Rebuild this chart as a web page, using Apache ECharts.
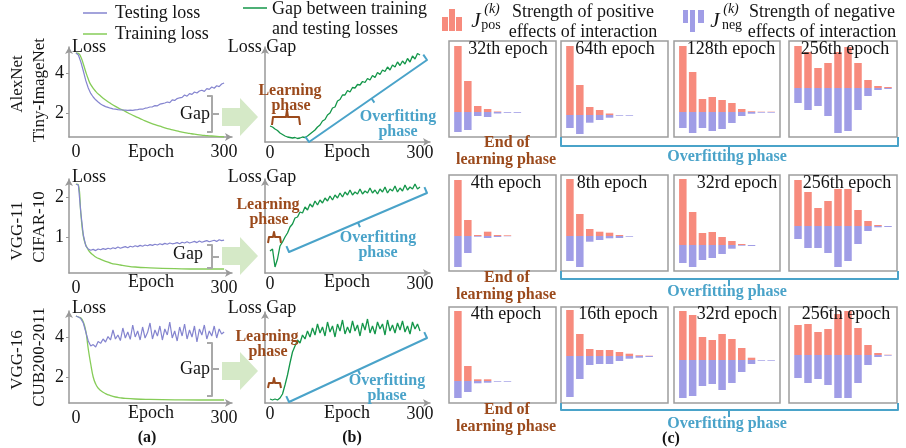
<!DOCTYPE html>
<html><head><meta charset="utf-8">
<script src="https://cdn.jsdelivr.net/npm/echarts@6/dist/echarts.min.js"></script>
<style>html,body{margin:0;padding:0;background:#fff}#c{width:906px;height:448px}</style>
</head><body><div id="c"></div>
<script>
// ---------------- DATA ----------------
const epochs = [0,5,10,15,20,25,30,35,40,45,50,55,60,65,70,75,80,85,90,95,100,105,110,115,120,125,130,135,140,145,150,155,160,165,170,175,180,185,190,195,200,205,210,215,220,225,230,235,240,245,250,255,260,265,270,275,280,285,290,295,300];

// (a) AlexNet / Tiny-ImageNet
const testLoss1 = [5.0,4.9,4.55,4.1,3.62,3.25,2.98,2.8,2.66,2.55,2.45,2.38,2.32,2.28,2.24,2.21,2.19,2.17,2.16,2.15,2.14,2.13,2.14,2.13,2.16,2.17,2.2,2.19,2.24,2.26,2.3,2.31,2.37,2.36,2.44,2.47,2.5,2.55,2.52,2.66,2.63,2.72,2.76,2.78,2.9,2.84,2.97,2.93,3.05,3.0,3.1,3.14,3.08,3.22,3.18,3.3,3.24,3.36,3.32,3.45,3.5];
const trainEp1 = [0,5,10,15,20,25,30,40,50,60,70,80,90,100,110,120,130,140,150,160,170,180,190,200,210,220,230,240,250,260,270,280,290,300];
const trainLoss1 = [5.0,4.98,4.8,4.45,4.05,3.7,3.42,3.08,2.85,2.65,2.48,2.33,2.2,2.08,1.95,1.83,1.72,1.61,1.51,1.42,1.34,1.26,1.19,1.13,1.07,1.02,0.98,0.94,0.91,0.88,0.86,0.84,0.82,0.8];
// (a) VGG-11 / CIFAR-10
const testLoss2 = [2.32,2.3,1.6,1.05,0.78,0.7,0.67,0.69,0.66,0.7,0.68,0.71,0.69,0.72,0.7,0.73,0.71,0.75,0.72,0.74,0.76,0.73,0.77,0.75,0.78,0.76,0.79,0.77,0.8,0.78,0.81,0.79,0.82,0.8,0.83,0.81,0.84,0.82,0.85,0.83,0.84,0.86,0.83,0.87,0.85,0.88,0.85,0.87,0.89,0.86,0.9,0.87,0.89,0.91,0.88,0.9,0.92,0.89,0.93,0.91,0.92];
const trainEp2 = [0,5,10,15,20,25,30,35,40,50,60,70,80,90,100,120,150,200,250,300];
const trainLoss2 = [2.32,2.3,1.58,1.02,0.8,0.68,0.6,0.55,0.5,0.44,0.39,0.35,0.32,0.3,0.28,0.25,0.23,0.21,0.2,0.2];
// (a) VGG-16 / CUB200-2011
const testLoss3 = [5.05,5.0,4.92,4.7,4.25,3.8,3.55,3.62,3.5,3.78,3.68,3.9,3.75,4.02,3.85,4.35,3.9,4.1,3.82,4.45,3.95,4.25,3.88,4.6,4.0,4.3,3.85,4.5,3.95,4.22,4.7,3.9,4.35,4.05,4.55,3.85,4.4,4.1,4.75,3.95,4.3,3.8,4.5,4.05,4.65,3.9,4.35,4.0,4.55,3.75,4.4,4.1,4.6,3.9,4.3,4.05,4.55,3.95,4.4,4.15,4.25];
const trainEp3 = [0,5,10,15,20,25,30,35,40,45,50,60,70,80,90,100,120,150,200,250,300];
const trainLoss3 = [5.05,5.0,4.95,4.75,4.3,3.4,2.65,2.0,1.65,1.45,1.32,1.17,1.07,1.0,0.96,0.93,0.9,0.88,0.86,0.85,0.85];

// (b) loss gap (arbitrary units)
const gap1 = [16,15,13,11.5,9,7.5,6,5,4.5,4,4.5,3.5,4,5,4.5,6,8,10,12,15,17,21,22.5,27,29,34,35,41,42.5,47,47,51.5,50,54.5,54,57.5,57,60.5,59.5,63.5,62,66.5,64.5,69.5,67.5,72,70.5,75,72,77,75,80,76.5,81,78,83.5,80,86,83,88.5,87];
const gap2 = [22,24,6,14,27,31,36,40,46,49,55,56,61,60,66,63,69,66,72,68,73,70,75,72,77,73,78,75,80,76,81,78,83,78,81,79,84,79,82,80,85,80,83,79,84,81,86,80,84,82,87,81,85,82,88,83,86,84,89,84,86];
const gap3 = [4,3,4,3,5,9,18,28,40,51,57,63,60,68,64,72,66,75,68,79,70,76,67,81,71,77,66,79,72,83,69,76,70,82,72,78,67,80,73,84,70,77,69,81,74,79,68,83,72,78,70,80,73,82,71,77,69,81,74,79,72];

// (c) interaction strengths, orders 1..10
const orders = [0,1,2,3,4,5,6,7,8,9];
const epochLabels = [["32th epoch","64th epoch","128th epoch","256th epoch"],["4th epoch","8th epoch","32rd epoch","256th epoch"],["4th epoch","16th epoch","32rd epoch","256th epoch"]];
const posR1 = [[66,31,6,3,0.5,0,0,0,0,0],[69,30,8,5,1.5,0,0,0,0,0],[66,40,13,15,12,9,3,0.7,0.3,0.3],[42,36,20,25,36,41,25,8,2,1]];
const negR1 = [[-20,-18,-4,-5,-1.5,-0.8,-0.8,0,0,0],[-13,-19,-7.7,-5,-2.7,-0.7,-0.7,0,0,0],[-16,-21,-16,-19,-17,-11,-4,-1.7,-0.7,-0.7],[-15,-22,-18,-28,-45,-43,-22,-8,-2,-1]];
const posR2 = [[56,16,1,4.3,1,0.7,0,0,0,0],[57,22,7,4.3,3.3,1,0,0,0,0],[66,33,12,13,8,4,1,0,0,0],[46,34,18,25,37,37,16,5,1,0]];
const negR2 = [[-31,-17,-0.7,-2,-1,-0.3,0,0,0,0],[-25,-31,-5.7,-4,-2.3,-2,-0.7,0,0,0],[-18,-22,-15,-13,-9,-3.7,-0.7,-1,0,0],[-13,-22,-22,-27,-41,-35,-18,-5,-1.3,-1]];
const posR3 = [[70,15,1.7,1.7,0,0,0,0,0,0],[46,22,7,6,6,4,2.3,0.7,0.3,0],[49,45,23,20,26,21,12,2.3,0,0],[30,31,23,26,41,44,27,10,2,0.3]];
const negR3 = [[-17,-11,-2.3,-1.7,-0.7,-0.7,0,0,0,0],[-41,-23,-9,-8,-8,-5,-2.7,-1.7,-1,0],[-38,-36,-26,-24,-30,-23,-12,-4,-0.7,-0.7],[-23,-28,-24,-30,-43,-43,-28,-10,-2,-0.7]];

const rowTitles = [["AlexNet","Tiny-ImageNet"],["VGG-11","CIFAR-10"],["VGG-16","CUB200-2011"]];
const aTicks = [[2,4],[1,2],[2,4]];
const xTicks = [0,300];

// ---------------- STYLE / LAYOUT ----------------
const FONT = '"Liberation Serif","Times New Roman",serif';
const TXT = '#141414';
const C_TEST='#8484cf', C_TRAIN='#86cc58', C_GAP='#139649', C_POS='#f78b7d', C_NEG='#a09de6',
      C_BROWN='#9b4a1c', C_BLUE='#4aa3c9', C_AXIS='#999999', C_GAPBR='#a8a8a8', C_ARROW='#d5e9c7';

const aLay = [{top:47,h:90,ymin:0.8,ymax:5.3},{top:179,h:94,ymin:0.1,ymax:2.45},{top:311,h:92,ymin:0.7,ymax:5.3}];
const bLay = [{top:47,h:95},{top:179,h:94},{top:312,h:91}];
const cLefts=[449,561,674,789], cWidths=[107,107,106,108], cTops=[41,175,307], cH=96;
const cBase=[[112,115,112,88],[236,236,245,226],[381,356,360,355]];

const grids=[], xAxes=[], yAxes=[], series=[];
function axisLineSt(){return {show:true,onZero:false,symbol:['none','arrow'],symbolSize:[6,7],lineStyle:{color:C_AXIS,width:1.5}};}
const lblFont = {color:TXT,fontFamily:FONT,fontSize:18};

function lineAxes(left,top,w,h,xmin,xmax,ymin,ymax,yt,lm){
  grids.push({left:left,top:top,width:w,height:h});
  const gi=grids.length-1;
  xAxes.push({type:'value',gridIndex:gi,min:xmin,max:xmax,axisLine:axisLineSt(),axisTick:{show:false},splitLine:{show:false},
    axisLabel:Object.assign({customValues:xTicks,margin:lm},lblFont)});
  const ya={type:'value',gridIndex:gi,min:ymin,max:ymax,axisLine:axisLineSt(),splitLine:{show:false}};
  if(yt){ya.axisTick={show:true,customValues:yt,length:3,lineStyle:{color:C_AXIS}};ya.axisLabel=Object.assign({customValues:yt,margin:5},lblFont);}
  else {ya.axisTick={show:false};ya.axisLabel={show:false};}
  yAxes.push(ya);
  return gi;
}
function zip(xs,ys){const n=Math.min(xs.length,ys.length);const o=[];for(let i=0;i<n;i++)o.push([xs[i],ys[i]]);return o;}
function lineSeries(gi,xs,ys,color,w,smooth){
  series.push({type:'line',xAxisIndex:gi,yAxisIndex:gi,data:zip(xs,ys),showSymbol:false,smooth:!!smooth,silent:true,
    lineStyle:{color:color,width:w}});
}

const testL=[testLoss1,testLoss2,testLoss3], trainE=[trainEp1,trainEp2,trainEp3], trainL=[trainLoss1,trainLoss2,trainLoss3], gaps=[gap1,gap2,gap3];
for(let r=0;r<3;r++){
  const L=aLay[r];
  const gi=lineAxes(69,L.top,163,L.h,-14,316,L.ymin,L.ymax,aTicks[r],6);
  lineSeries(gi,trainE[r],trainL[r],C_TRAIN,1.3,true);
  lineSeries(gi,epochs,testL[r],C_TEST,1.2,false);
  const B=bLay[r];
  const gb=lineAxes(265,B.top,165,B.h,-10,320,0,B.h,null,2);
  lineSeries(gb,epochs,gaps[r],C_GAP,1.3,false);
}
const posAll=[posR1,posR2,posR3], negAll=[negR1,negR2,negR3];
for(let r=0;r<3;r++){
  for(let p=0;p<4;p++){
    grids.push({left:cLefts[p],top:cTops[r],width:cWidths[p],height:cH,show:true,borderColor:'#9d9d9d',borderWidth:1.5,backgroundColor:'transparent'});
    const gi=grids.length-1;
    const base=cBase[r][p];
    xAxes.push({type:'value',gridIndex:gi,min:-0.9,max:9.9,show:false});
    yAxes.push({type:'value',gridIndex:gi,min:base-(cTops[r]+cH),max:base-cTops[r],show:false});
    series.push({type:'bar',xAxisIndex:gi,yAxisIndex:gi,data:zip(orders,posAll[r][p]),barWidth:7.5,barGap:'-100%',silent:true,itemStyle:{color:C_POS}});
    series.push({type:'bar',xAxisIndex:gi,yAxisIndex:gi,data:zip(orders,negAll[r][p]),barWidth:7.5,barGap:'-100%',silent:true,itemStyle:{color:C_NEG}});
  }
}

// ---------------- ANNOTATIONS ----------------
const g=[];
function txt(x,y,s,o){o=o||{};const al=o.align||'center';
  g.push({type:'text',x:x,y:y,rotation:o.rot||0,silent:true,z:100,style:{text:s,fill:o.fill||TXT,
    font:(o.italic?'italic ':'')+(o.bold?'bold ':'')+(o.size||18)+'px '+FONT,
    textAlign:al,textVerticalAlign:'middle',align:al,verticalAlign:'middle'}});}
function pl(pts,color,w){g.push({type:'polyline',silent:true,z:100,shape:{points:pts},style:{stroke:color,lineWidth:w||2,fill:null,lineJoin:'round'}});}
function rect(x,y,w,h,c){g.push({type:'rect',silent:true,z:100,shape:{x:x,y:y,width:w,height:h},style:{fill:c}});}

// legends
pl([[83,13],[107,13]],C_TEST,1.5); txt(115,13,'Testing loss',{align:'left'});
pl([[83,34],[107,34]],C_TRAIN,1.5); txt(115,34,'Training loss',{align:'left'});
pl([[243,8],[267,8]],C_GAP,1.5); txt(272,9,'Gap between training',{align:'left'}); txt(272,29,'and testing losses',{align:'left'});
rect(442,17,6,14,C_POS); rect(449,9,6,22,C_POS); rect(456,17,6,14,C_POS);
txt(476,21,'J',{italic:true,size:21}); txt(492,9,'(k)',{italic:true,size:14}); txt(491,25,'pos',{size:14});
txt(583,12,'Strength of positive'); txt(583,32,'effects of interaction');
rect(683,10,5,13,C_NEG); rect(690,10,5,22,C_NEG); rect(698,10,6,13,C_NEG);
txt(715,21,'J',{italic:true,size:21}); txt(731,9,'(k)',{italic:true,size:14}); txt(732,25,'neg',{size:14});
txt(822,12,'Strength of negative'); txt(822,32,'effects of interaction');

// row titles & axis names
const titleY=[[84,90],[231,227],[360,357]];
const nameY=[47,177,308];
const epochY=[152,282,413];
for(let r=0;r<3;r++){
  txt(18,titleY[r][0],rowTitles[r][0],{rot:Math.PI/2,size:17});
  txt(40,titleY[r][1],rowTitles[r][1],{rot:Math.PI/2,size:17});
  txt(72,nameY[r],'Loss',{align:'left'});
  txt(262,nameY[r],'Loss Gap');
  txt(151,epochY[r],'Epoch');
  txt(347,epochY[r],'Epoch');
}
// Gap brackets and big arrows
const gapBr=[[96,132,114],[245,268,257],[343,396,369]];
const gapTxt=[[195,114],[188,254],[195,369]];
const arrowY=[117,256,371];
for(let r=0;r<3;r++){
  const b=gapBr[r];
  pl([[207,b[0]],[212,b[0]],[212,b[1]],[207,b[1]]],C_GAPBR,2);
  pl([[212,b[2]],[219,b[2]]],C_GAPBR,2);
  txt(gapTxt[r][0],gapTxt[r][1],'Gap');
  const c=arrowY[r];
  g.push({type:'polygon',silent:true,z:90,shape:{points:[[222,c-9],[240,c-9],[240,c-19],[258,c],[240,c+19],[240,c+9],[222,c+9]]},style:{fill:C_ARROW}});
}
// learning-phase braces in (b)
const brB=[[272,300,287,125,117,110],[268,281,274,243,237,232],[268,281,274,388,383,378]];
const learnTxt=[[290,91],[268,205],[267,337]];
for(let r=0;r<3;r++){
  const q=brB[r];
  pl([[q[0],q[3]],[q[0]+1,q[4]],[q[2]-1,q[4]],[q[2],q[5]],[q[2]+1,q[4]],[q[1]-1,q[4]],[q[1],q[3]]],C_BROWN,2);
  txt(learnTxt[r][0],learnTxt[r][1],'Learning',{bold:true,fill:C_BROWN,size:16});
  txt(learnTxt[r][0]+1,learnTxt[r][1]+15,'phase',{bold:true,fill:C_BROWN,size:16});
}
// overfitting brackets in (b)
const ofB=[[[309,142],[427,60],0.53],[[289,252],[427,193],0.5],[[289,402],[427,338],0.5]];
const ofTxt=[[398,117],[378,238],[387,381]];
for(let r=0;r<3;r++){
  const p1=ofB[r][0],p2=ofB[r][1],t=ofB[r][2];
  const dx=p2[0]-p1[0],dy=p2[1]-p1[1],len=Math.hypot(dx,dy);
  const nx=dy/len,ny=-dx/len;
  const hk=6.5;
  pl([[p1[0]+nx*hk,p1[1]+ny*hk],p1,p2,[p2[0]+nx*hk,p2[1]+ny*hk]],C_BLUE,2);
  const m=[p1[0]+dx*t,p1[1]+dy*t];
  pl([m,[m[0]-nx*5,m[1]-ny*5]],C_BLUE,2);
  txt(ofTxt[r][0],ofTxt[r][1],'Overfitting',{bold:true,fill:C_BLUE,size:16});
  txt(ofTxt[r][0],ofTxt[r][1]+15,'phase',{bold:true,fill:C_BLUE,size:16});
}
// (c) labels
const eLabX=[[508,615,731,845],[506,612,737,847],[506,618,737,846]];
const eLabY=[49,183,314];
const endY=[143,278,410];
const brC=[[137,146,153,157],[271,279,286,292],[403,410,417,424]];
for(let r=0;r<3;r++){
  for(let p=0;p<4;p++) txt(eLabX[r][p],eLabY[r],epochLabels[r][p]);
  txt(507,endY[r],'End of',{bold:true,fill:C_BROWN,size:16});
  txt(506,endY[r]+17,'learning phase',{bold:true,fill:C_BROWN,size:16});
  const q=brC[r];
  pl([[561,q[0]],[561,q[1]],[898,q[1]],[898,q[0]]],C_BLUE,2);
  pl([[729,q[1]],[729,q[2]]],C_BLUE,2);
  txt(727,q[3],'Overfitting phase',{bold:true,fill:C_BLUE,size:16});
}
txt(147,438,'(a)',{bold:true,size:16}); txt(352,438,'(b)',{bold:true,size:16}); txt(671,439,'(c)',{bold:true,size:16});

const chart=echarts.init(document.getElementById('c'),null,{renderer:'canvas'});
chart.setOption({animation:false,backgroundColor:'#fff',grid:grids,xAxis:xAxes,yAxis:yAxes,series:series,graphic:{elements:g}});
</script></body></html>
